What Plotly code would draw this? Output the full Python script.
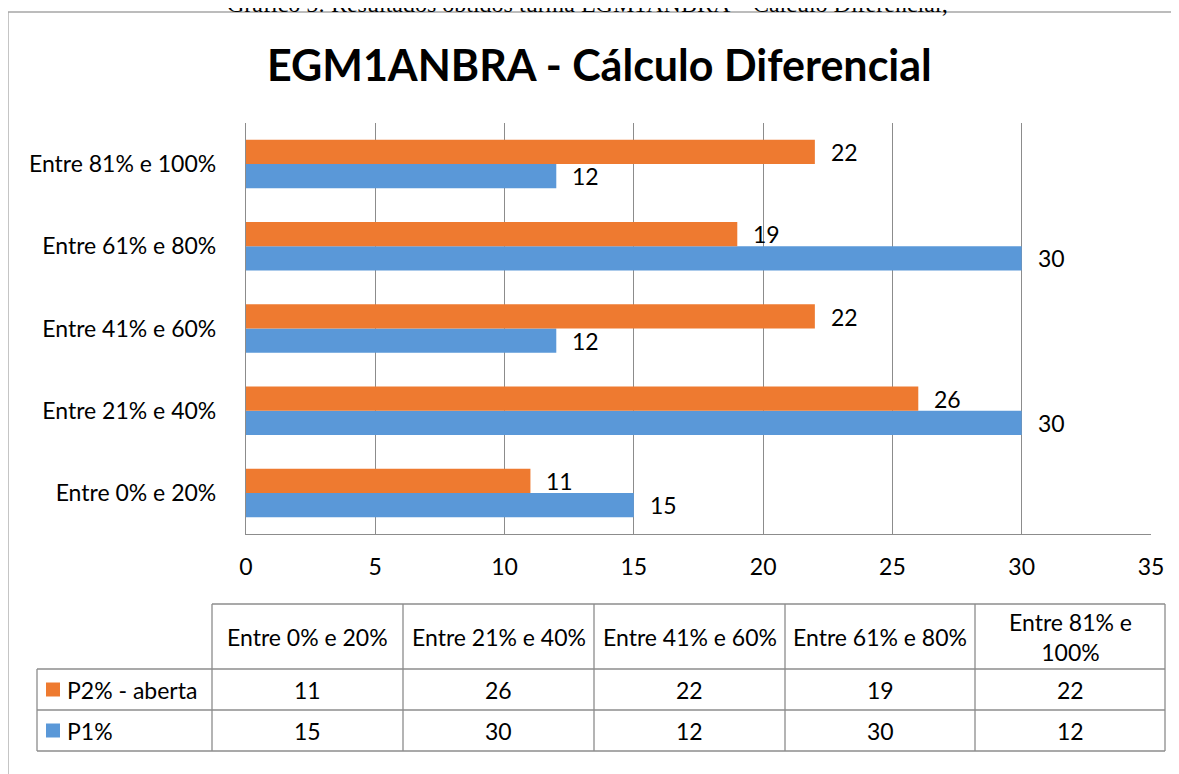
import plotly.graph_objects as go

categories = ["Entre 0% e 20%", "Entre 21% e 40%", "Entre 41% e 60%", "Entre 61% e 80%", "Entre 81% e 100%"]
table_headers = ["Entre 0% e 20%", "Entre 21% e 40%", "Entre 41% e 60%", "Entre 61% e 80%", "Entre 81% e<br>100%"]
p1 = [15, 30, 12, 30, 12]
p2 = [11, 26, 22, 19, 22]
series_names = ["P2% - aberta", "P1%"]
title_text = "EGM1ANBRA - Cálculo Diferencial"
caption_text = "Gráfico 5: Resultados obtidos turma EGM1ANBRA – Cálculo Diferencial;"

PAGE_W, PAGE_H = 1179, 774
OFF = 8  # default body margin of the html page
W, H = PAGE_W - OFF, PAGE_H - OFF
L, R, T, B = 246, 1151, 123, 534  # plot area in page pixels
FONT = "Lato"
FS = 23
ORANGE = "#EE7A30"
BLUE = "#5A98D8"
GRID = "#8C8C8C"

def px(x):
    return (x - L) / (R - L)

def py(y):
    return (B - y) / (B - T)

fig = go.Figure()
fig.add_trace(go.Bar(y=categories, x=p1, orientation="h", name=series_names[1],
                     marker=dict(color=BLUE, line=dict(width=0))))
fig.add_trace(go.Bar(y=categories, x=p2, orientation="h", name=series_names[0],
                     marker=dict(color=ORANGE, line=dict(width=0))))

annotations = []
# data labels
for vals, shift in ((p1, -12), (p2, 12)):
    for c, v in zip(categories, vals):
        annotations.append(dict(x=v, y=c, xref="x", yref="y", text=str(v), showarrow=False,
                                xanchor="left", yanchor="middle", xshift=14, yshift=shift,
                                font=dict(family=FONT, size=FS, color="black")))

# title and caption
annotations.append(dict(x=px(599), y=py(64), xref="paper", yref="paper", text="<b>%s</b>" % title_text,
                        showarrow=False, xanchor="center", yanchor="middle",
                        font=dict(family=FONT, size=43, color="black")))
annotations.append(dict(x=px(587), y=py(19), xref="paper", yref="paper", text=caption_text,
                        showarrow=False, xanchor="center", yanchor="bottom",
                        font=dict(family="Liberation Serif", size=24, color="black")))

shapes = []
line_col = "#8C8C8C"
# outer chart border
shapes.append(dict(type="line", xref="paper", yref="paper", x0=px(8), x1=px(1190), y0=py(12), y1=py(12),
                   line=dict(color="#A6A6A6", width=1.3)))
shapes.append(dict(type="line", xref="paper", yref="paper", x0=px(8), x1=px(8), y0=py(12), y1=py(790),
                   line=dict(color="#A6A6A6", width=1.3)))

# table geometry
col_x = [212, 403, 594, 785, 975, 1165]
row_y = [604, 669, 710, 751]
leg_x = 37
shapes.append(dict(type="line", xref="paper", yref="paper", x0=px(col_x[0]), x1=px(col_x[-1]),
                   y0=py(row_y[0]), y1=py(row_y[0]), line=dict(color=line_col, width=1.3)))
for yy in row_y[1:]:
    shapes.append(dict(type="line", xref="paper", yref="paper", x0=px(leg_x), x1=px(col_x[-1]),
                       y0=py(yy), y1=py(yy), line=dict(color=line_col, width=1.3)))
shapes.append(dict(type="line", xref="paper", yref="paper", x0=px(leg_x), x1=px(leg_x),
                   y0=py(row_y[1]), y1=py(row_y[3]), line=dict(color=line_col, width=1.3)))
for xx in col_x:
    shapes.append(dict(type="line", xref="paper", yref="paper", x0=px(xx), x1=px(xx),
                       y0=py(row_y[0]), y1=py(row_y[3]), line=dict(color=line_col, width=1.3)))

# header texts
for i, h in enumerate(table_headers):
    cx = (col_x[i] + col_x[i + 1]) / 2
    annotations.append(dict(x=px(cx), y=py((row_y[0] + row_y[1]) / 2), xref="paper", yref="paper",
                            text=h, showarrow=False, xanchor="center", yanchor="middle",
                            font=dict(family=FONT, size=FS, color="black")))
# value rows
for r, (vals, name, col) in enumerate(((p2, series_names[0], ORANGE), (p1, series_names[1], BLUE))):
    cy = (row_y[1 + r] + row_y[2 + r]) / 2
    shapes.append(dict(type="rect", xref="paper", yref="paper", x0=px(46), x1=px(60),
                       y0=py(cy - 7), y1=py(cy + 7), fillcolor=col, line=dict(width=0)))
    annotations.append(dict(x=px(65), y=py(cy), xref="paper", yref="paper", text=name, showarrow=False,
                            xanchor="left", yanchor="middle", font=dict(family=FONT, size=FS, color="black")))
    for i, v in enumerate(vals):
        cx = (col_x[i] + col_x[i + 1]) / 2
        annotations.append(dict(x=px(cx), y=py(cy), xref="paper", yref="paper", text=str(v),
                                showarrow=False, xanchor="center", yanchor="middle",
                                font=dict(family=FONT, size=FS, color="black")))

fig.update_layout(
    width=W, height=H,
    margin=dict(l=L - OFF, r=PAGE_W - R, t=T - OFF, b=PAGE_H - B, pad=0),
    paper_bgcolor="white", plot_bgcolor="white",
    barmode="group", bargap=0.41, bargroupgap=0,
    showlegend=False,
    font=dict(family=FONT, size=FS, color="black"),
    annotations=annotations, shapes=shapes,
)
fig.update_xaxes(range=[0, 35], dtick=5, tick0=0, showgrid=True, gridcolor=GRID, gridwidth=1.3,
                 showline=True, linecolor=GRID, linewidth=1.3, ticks="", zeroline=False,
                 ticklabelstandoff=12, tickfont=dict(family=FONT, size=FS, color="black"), fixedrange=True)
fig.update_yaxes(type="category", categoryorder="array", categoryarray=categories,
                 showgrid=False, showline=True, linecolor=GRID, linewidth=1.3, ticks="",
                 ticklabelstandoff=24, tickfont=dict(family=FONT, size=FS, color="black"), fixedrange=True)

fig.write_html("out.html")
